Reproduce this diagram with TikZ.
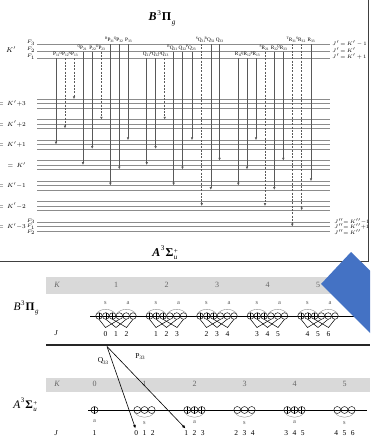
\documentclass[tikz,border=0pt]{standalone}
\usepackage[no-math]{fontspec}
\setmainfont{Liberation Serif}
\usetikzlibrary{arrows.meta}
\definecolor{bandgray}{HTML}{D9D9D9}
\definecolor{bluearrow}{HTML}{4472C4}
\newcommand\stlab[4]{#1\kern0.05em\raisebox{0.45em}{\fontsize{0.6em}{0.6em}\selectfont 3}\kern0.08em\textbf{#2}\kern0.05em\raisebox{-0.3em}{\fontsize{0.6em}{0.6em}\selectfont\rlap{\itshape #3}\raisebox{0.9em}{#4}}\hphantom{\fontsize{0.6em}{0.6em}\selectfont #3}}
\begin{document}
\begin{tikzpicture}[x=1pt,y=-1pt,
  hlev/.style={draw=black!45, line width=0.7pt},
  trans/.style={draw=black!65, line width=0.55pt, -{Latex[length=2.8pt,width=2.6pt]}},
  dtrans/.style={trans, dash pattern=on 2pt off 1.3pt},
  tlab/.style={inner sep=0pt, anchor=base, font=\fontsize{5.2}{5.2}\selectfont},
  small/.style={inner sep=0pt, font=\fontsize{5}{5}\selectfont},
  tiny/.style={inner sep=0pt, font=\fontsize{4.6}{4.6}\selectfont},
  lvlab/.style={inner sep=0pt, anchor=east, font=\fontsize{6}{6}\selectfont},
  band/.style={fill=bandgray, draw=none},
  knum/.style={inner sep=0pt, text=black!60, font=\fontsize{8}{8}\selectfont},
  jnum/.style={inner sep=0pt, font=\fontsize{7.5}{7.5}\selectfont},
  sa/.style={inner sep=0pt, text=black!65, font=\fontsize{6.5}{6.5}\selectfont},
  arcst/.style={draw=black!45, line width=0.4pt},
  vl/.style={draw=black, line width=0.5pt},
  circ/.style={draw=black, line width=0.45pt, fill=white},
  arr/.style={draw=black, line width=0.6pt, -{Latex[length=3.5pt,width=3pt]}},
  statelab/.style={inner sep=0pt, font=\fontsize{12}{12}\selectfont}
]
\clip (0,0) rectangle (370,439);
\fill[white] (0,0) rectangle (370,439);

% ---------- upper panel: level diagram ----------
\draw[draw=black!75, line width=1pt] (0,261.5) -- (368,261.5) -- (368,0);

\node[statelab] (tit) at (162,18) {\stlab{\textbf{\textit{B}}}{Π}{g}{}};
\node[statelab] (tit2) at (167,253) {\stlab{\textbf{\textit{A}}}{Σ}{u}{+}};

% upper levels
\foreach \y in {44,51.7,58.3} \draw[hlev] (37,\y) -- (330,\y);
% lower levels
\foreach \g in {0,...,6} \foreach \d in {-4.4,0,4.4}
  \draw[hlev] (37,{103.5+20.5*\g+\d}) -- (330,{103.5+20.5*\g+\d});

% left / right labels
\node[inner sep=0pt, font=\fontsize{7}{7}\selectfont] (kp) at (11,50) {$K'$};
\node[small] (f3u) at (31,43) {$F_3$};
\node[small] (f2u) at (31,50) {$F_2$};
\node[small] (f1u) at (31,57) {$F_1$};
\node[small, anchor=west] (r1) at (332,44) {$J'\,{=}\,K'\,{-}\,1$};
\node[small, anchor=west] (r2) at (332,50.5) {$J'\,{=}\,K'$};
\node[small, anchor=west] (r3) at (332,57) {$J'\,{=}\,K'\,{+}\,1$};

\node[lvlab] (l0) at (26,103.5) {$=\,K'{+}3$};
\node[lvlab] (l1) at (26,124) {$=\,K'{+}2$};
\node[lvlab] (l2) at (26,144.5) {$=\,K'{+}1$};
\node[lvlab] (l3) at (26,165) {$=\,K'$};
\node[lvlab] (l4) at (26,185.5) {$=\,K'{-}1$};
\node[lvlab] (l5) at (26,206) {$=\,K'{-}2$};
\node[lvlab] (l6) at (26,226.5) {$=\,K'{-}3$};

\node[small] (f3l) at (31,221.5) {$F_3$};
\node[small] (f1l) at (31,227) {$F_1$};
\node[small] (f2l) at (31,232.5) {$F_2$};
\node[tiny, anchor=west] (s1) at (334,222) {$J''{=}\,K''{-}1$};
\node[tiny, anchor=west] (s2) at (334,227) {$J''{=}\,K''{+}1$};
\node[tiny, anchor=west] (s3) at (334,232) {$J''{=}\,K''$};

% transitions: x / upper level / lower group / line (-1 top,0 mid,1 bottom) / style / sup / branch / sub
\foreach \x/\u/\g/\l/\st/\sp/\br/\sb in {
  56.0/1/2/0/trans//P/11, 65.0/1/1/1/dtrans/O/P/12, 74.0/1/0/-1/dtrans/N/P/13,
  83.0/2/3/0/trans/Q/P/21, 92.2/2/2/1/trans//P/22, 101.4/2/1/-1/dtrans/O/P/23,
  110.4/3/4/0/trans/R/P/31, 119.3/3/3/1/trans/Q/P/32, 128.0/3/2/-1/trans//P/33,
  146.7/1/3/0/trans//Q/11, 155.6/1/2/1/trans/P/Q/12, 164.7/1/1/-1/dtrans/O/Q/13,
  173.6/2/4/0/trans/R/Q/21, 182.5/2/3/1/trans//Q/22, 192.0/2/2/-1/trans/P/Q/23,
  201.7/3/5/0/dtrans/S/Q/31, 210.8/3/4/1/trans/R/Q/32, 219.6/3/3/-1/trans//Q/33,
  238.3/1/4/0/trans//R/11, 247.0/1/3/1/trans/Q/R/12, 256.0/1/2/-1/trans/P/R/13,
  265.0/2/5/0/dtrans/S/R/21, 274.3/2/4/1/trans//R/22, 283.3/2/3/-1/trans/Q/R/23,
  292.3/3/6/0/dtrans/T/R/31, 301.7/3/5/1/dtrans/S/R/32, 311.0/3/4/-1/trans//R/33}
{
  \pgfmathsetmacro\yu{\u==1 ? 58.3 : (\u==2 ? 51.7 : 44)}
  \pgfmathsetmacro\yl{103.5+20.5*\g+4.4*\l}
  \pgfmathsetmacro\yb{\u==1 ? 55.8 : (\u==2 ? 49.2 : 41.5)}
  \draw[\st] (\x,\yu) -- (\x,\yl);
  \node[tlab] (t\br\sb) at (\x,\yb) {\llap{\raisebox{1.8pt}{\fontsize{3.6}{3.6}\selectfont\sp}\br}\rlap{\raisebox{-0.9pt}{\fontsize{3.6}{3.6}\selectfont\sb}}};
}

% ---------- lower panel: parity diagram ----------
\fill[band] (46,277) rectangle (370,293.5);
\node[knum, font=\fontsize{8}{8}\selectfont\itshape] (ku) at (57,285) {K};
\node[statelab, font=\fontsize{11.5}{11.5}\selectfont] (bpi) at (26,308) {\stlab{\textit{B}}{Π}{g}{}};
\node[jnum, font=\fontsize{7.5}{7.5}\selectfont\itshape] (ju) at (56,333.5) {J};
\draw[vl] (90,316) -- (356,316);

\foreach \k in {1,...,5} {
  \pgfmathsetmacro\c{116+50.5*(\k-1)}
  \node[knum] (ku\k) at (\c,285) {\k};
  \foreach \j in {0,1,2} {
    \pgfmathsetmacro\vx{\c+(\j-1)*10.5}
    \pgfmathsetmacro\px{\c+(\j-2.5)*6.8}
    \pgfmathsetmacro\mx{\c+(\j+0.5)*6.8}
    \pgfmathtruncatemacro\J{\k-1+\j}
    \draw[vl] (\px,319.3) -- (\vx,327.5) -- (\mx,319.3);
    \node[jnum] (ju\k\j) at (\vx,334) {\J};
  }
  \foreach \i in {0,...,5} {
    \pgfmathsetmacro\cx{\c+(\i-2.5)*6.8}
    \draw[circ] (\cx,316) circle[radius=3.3];
    \draw[vl, line width=0.45pt] ({\cx-3.3},316) -- ({\cx+3.3},316);
    \ifnum\i<3 \draw[vl, line width=0.45pt] (\cx,312.7) -- (\cx,319.3); \fi
  }
  \draw[arcst] ({\c-20},314) to[bend left=55] ({\c-0.5},314);
  \draw[arcst] ({\c+0.5},314) to[bend left=55] ({\c+20},314);
  \node[sa] (su\k) at ({\c-10.5},303) {s};
  \node[sa] (au\k) at ({\c+12},303) {a};
}
\draw[draw=black!85, line width=1.8pt] (46,345) -- (370,345);

\fill[band] (46,377.5) rectangle (370,392);
\node[knum, font=\fontsize{8}{8}\selectfont\itshape] (kl) at (57,384) {K};
\node[statelab, font=\fontsize{11.5}{11.5}\selectfont] (asig) at (27,405) {\stlab{\textit{A}}{Σ}{u}{+}};
\node[jnum, font=\fontsize{7.5}{7.5}\selectfont\itshape] (jl) at (56,433) {J};
\draw[vl] (88,410) -- (367,410);

% K = 0
\node[knum] (kl0) at (94.5,384) {0};
\draw[circ] (94.5,410) circle[radius=3.5];
\draw[vl, line width=0.45pt] (91,410) -- (98,410) (94.5,406.5) -- (94.5,413.5);
\node[sa] (al0) at (94.5,421.5) {a};
\node[jnum] (jl0) at (94.5,433) {1};

\foreach \k in {1,...,5} {
  \pgfmathsetmacro\c{94.5+50*\k}
  \node[knum] (kl\k) at (\c,384) {\k};
  \foreach \i in {-1,0,1} {
    \pgfmathsetmacro\cx{\c+\i*7.2}
    \draw[circ] (\cx,410) circle[radius=3.5];
    \draw[vl, line width=0.45pt] ({\cx-3.5},410) -- ({\cx+3.5},410);
    \ifodd\k\else \draw[vl, line width=0.45pt] (\cx,406.5) -- (\cx,413.5); \fi
    \pgfmathtruncatemacro\J{\k+\i}
    \node[jnum] (jl\k\i) at ({\c+\i*8.3},433) {\J};
  }
  \draw[arcst] ({\c-9.5},413) to[bend right=50] ({\c+9.5},413);
  \ifodd\k \node[sa] (sl\k) at (\c,422.5) {s}; \else \node[sa] (sl\k) at (\c,422.5) {a}; \fi
}

% transitions between panels
\coordinate (st) at (107,346.5);
\coordinate (q0) at (135.5,428.5);
\coordinate (p1) at (185.5,428.5);
\draw[arr] (st) -- (q0);
\draw[arr] (st) -- (p1);
\node[jnum] (lq) at (103,361) {Q\raisebox{-1.2pt}{\fontsize{5}{5}\selectfont 33}};
\node[jnum] (lp) at (140,356.5) {P\raisebox{-1.2pt}{\fontsize{5}{5}\selectfont 33}};

% blue callout shape
\fill[bluearrow] (351,252) -- (321,284) -- (381,344) -- (390,290) -- cycle;
\end{tikzpicture}
\end{document}
